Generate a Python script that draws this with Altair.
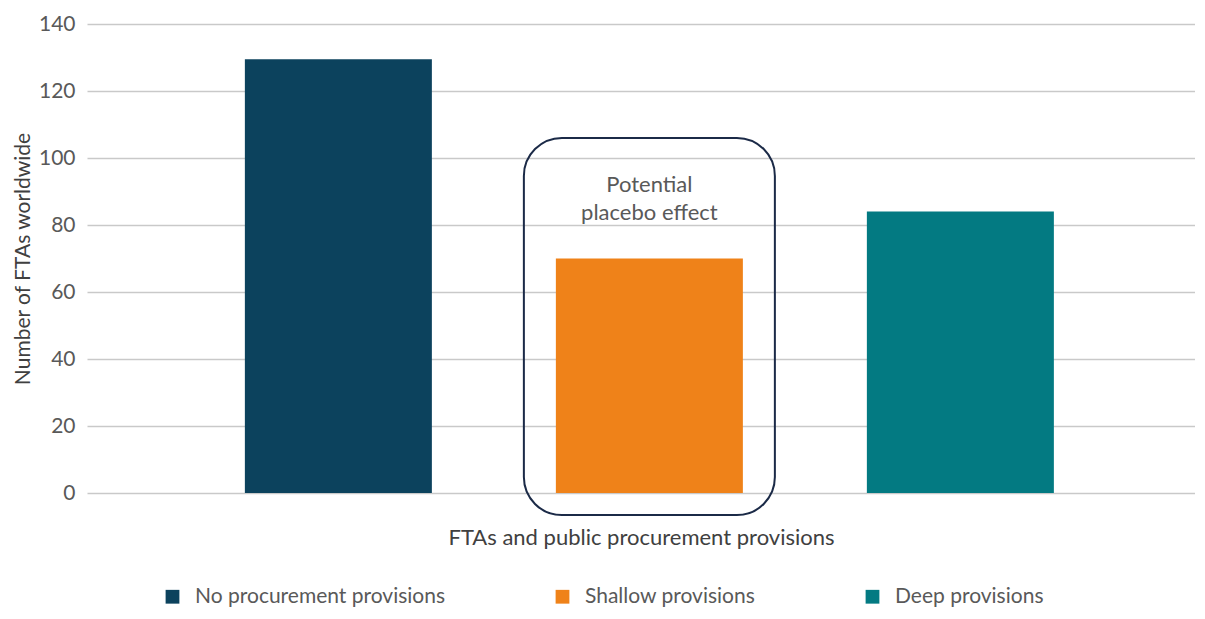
import altair as alt
import pandas as pd

categories = ["No procurement provisions", "Shallow provisions", "Deep provisions"]
values = [129.5, 70, 84]
colors = ["#0c425d", "#ef8219", "#037a82"]
y_ticks = [0, 20, 40, 60, 80, 100, 120, 140]
note_lines = ["Potential", "placebo effect"]
box_top, box_bottom = 106, -6.6
note_y = 92

FONT = "Lato"
GREY = "#595959"

df = pd.DataFrame({"cat": categories, "val": values})
box_df = pd.DataFrame({"cat": [categories[1]], "top": [box_top], "bottom": [box_bottom]})
note_df = pd.DataFrame({"cat": [categories[1]], "y": [note_y], "t": [note_lines]})

xscale = alt.Scale(domain=categories, paddingInner=0.3987, paddingOuter=0.4807, align=0.528)
yscale = alt.Scale(domain=[0, 140], nice=False)

bars = alt.Chart(df).mark_bar().encode(
    x=alt.X("cat:N", scale=xscale, sort=categories,
            axis=alt.Axis(title="FTAs and public procurement provisions", labels=False, ticks=False,
                          domain=False, titleFont=FONT, titleFontSize=22, titleFontWeight="normal",
                          titleColor="#404040", titlePadding=34)),
    y=alt.Y("val:Q", scale=yscale,
            axis=alt.Axis(title="Number of FTAs worldwide", values=y_ticks, domain=False, ticks=False,
                          gridColor="#c9c9c9", gridWidth=1.3, labelFont=FONT, labelFontSize=21,
                          labelColor=GREY, labelPadding=12, titleFont=FONT, titleFontSize=21,
                          titleFontWeight="normal", titleColor="#404040", titlePadding=5)),
    color=alt.Color("cat:N", scale=alt.Scale(domain=categories, range=colors), sort=categories,
                    legend=alt.Legend(title=None, orient="none", legendX=75, legendY=562,
                                      direction="horizontal", columns=3, columnPadding=106,
                                      padding=0, symbolType="square", symbolSize=190,
                                      symbolStrokeWidth=0, labelFont=FONT, labelFontSize=21,
                                      labelColor=GREY, labelOffset=12, labelLimit=500)),
)

box = alt.Chart(box_df).mark_rect(
    fill=None, stroke="#1b2a47", strokeWidth=2, cornerRadius=38, width=251
).encode(
    x=alt.X("cat:N", scale=xscale, sort=categories),
    y=alt.Y("top:Q", scale=yscale),
    y2="bottom:Q",
)

note = alt.Chart(note_df).mark_text(
    font=FONT, fontSize=22, color=GREY, baseline="middle", lineHeight=28
).encode(
    x=alt.X("cat:N", scale=xscale, sort=categories),
    y=alt.Y("y:Q", scale=yscale),
    text="t",
)

chart = alt.layer(bars, box, note).properties(
    width=1108, height=469,
    autosize=alt.AutoSizeParams(type="none"),
    padding={"left": 79, "top": 16, "right": 0, "bottom": 118},
).configure_view(stroke=None)

chart.save("out.html", embed_options={"renderer": "svg", "actions": False})
